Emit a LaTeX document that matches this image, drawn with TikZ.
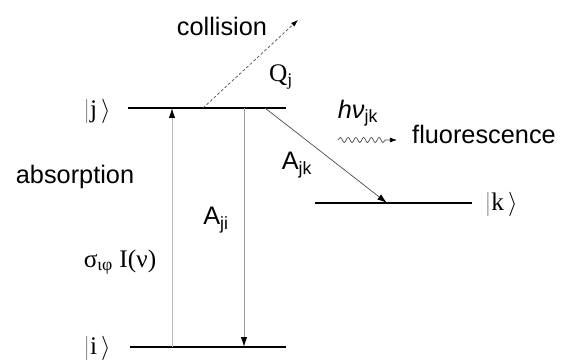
\documentclass[tikz,border=0pt]{standalone}
\usepackage{fontspec}
\setmainfont{Liberation Sans}
\newfontfamily\serif{Liberation Serif}
\usetikzlibrary{positioning,arrows.meta,decorations.pathmorphing}

\begin{document}
\begin{tikzpicture}[x=0.025cm,y=-0.025cm,>=Stealth,
	level/.style={line width=1.1pt},
	lbl/.style={inner sep=0pt,font=\fontsize{18}{20}\selectfont},
	serlbl/.style={inner sep=0pt,font=\fontsize{18}{20}\selectfont\serif},
	trans/.style={draw=gray!80,line width=0.7pt,-{Latex[black,length=7pt,width=4.5pt]}}]
	
	\useasboundingbox (0,0) rectangle (561,360);
	
	% Levels
	\draw[level] (128,108) coordinate (j1) -- (286,108) coordinate (j2);
	\draw[level] (130,347) coordinate (i1) -- (286,347) coordinate (i2);
	\draw[level] (315,203) coordinate (k1) -- (472,203) coordinate (k2);
	
	\node[serlbl] (ketj) at (97,111) {$\textcolor{gray}{\Bigl|}$j$\,\Bigr\rangle$};
	\node[serlbl] (keti) at (97,348) {$\textcolor{gray}{\Bigl|}$i$\,\Bigr\rangle$};
	\node[serlbl] (ketk) at (501,204) {$\textcolor{gray}{\Bigl|}$k$\,\Bigr\rangle$};
	
	% Transitions
	\coordinate (absi) at (172,347);
	\coordinate (absj) at (172,108);
	\draw[trans,draw=gray!55] (absi) -- (absj);
	
	\coordinate (ajij) at (244,108);
	\coordinate (ajii) at (244,347);
	\draw[trans] (ajij) -- (ajii);
	
	\coordinate (ajkj) at (265,108);
	\coordinate (ajkk) at (387,203);
	\draw[trans,draw=black!70,line width=0.5pt] (ajkj) -- (ajkk);
	
	% Collision
	\coordinate (colj) at (203,108);
	\coordinate (colend) at (298,20);
	\draw[dashed,draw=black!70,line width=0.5pt,dash pattern=on 2pt off 1.5pt,
		-{Latex[black,length=5pt,width=3.5pt]}] (colj) -- (colend);
	
	% Fluorescence photon
	\coordinate (ph1) at (338,140);
	\coordinate (ph2) at (397,140);
	\draw[draw=black!70,line width=0.5pt,-{Latex[black,length=5pt,width=3.5pt]},
		decorate,decoration={snake,amplitude=1.8pt,segment length=5.5pt,post length=6pt}]
		(ph1) -- (ph2);
	
	% Labels
	\node[lbl] (collision) at (222,26) {collision};
	\node[serlbl] (Qj) at (281,77) {Q\textsubscript{j}};
	\node[lbl] (absorption) at (75,177) {absorption};
	\node[serlbl] (sigma) at (120,262) {σ\textsubscript{ιφ} I(ν)};
	\node[lbl] (Aji) at (216,220) {A\textsubscript{ji}};
	\node[lbl] (Ajk) at (297,165) {A\textsubscript{jk}};
	\node[lbl] (hnu) at (358,113) {\textit{hν}\textsubscript{jk}};
	\node[lbl] (fluor) at (484,134) {fluorescence};
	
\end{tikzpicture}
\end{document}
